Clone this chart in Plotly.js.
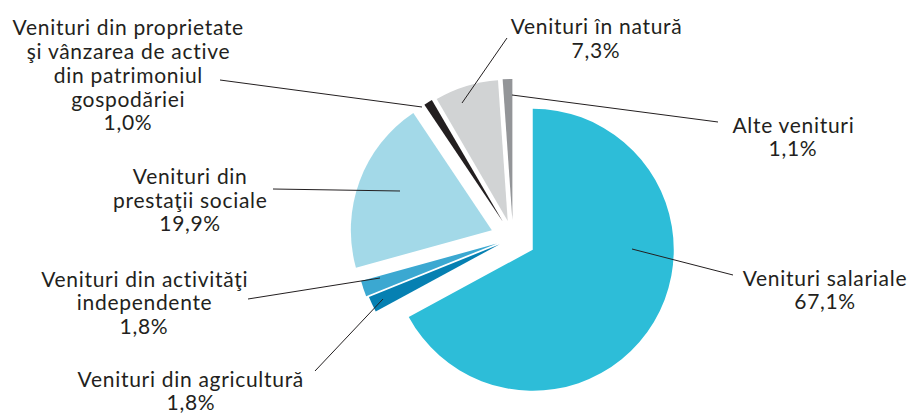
<!DOCTYPE html>
<html>
<head>
<meta charset="utf-8">
<script src="https://cdn.plot.ly/plotly-3.0.1.min.js"></script>
<style>
html,body{margin:0;padding:0;background:#fff;}
#chart{width:910px;height:414px;}
#chart .annotation-text{letter-spacing:0.7px;}
</style>
</head>
<body>
<div id="chart"></div>
<script>
// ---- data ----
const categories = [
  'Venituri salariale',
  'Venituri din agricultură',
  'Venituri din activităţi independente',
  'Venituri din prestaţii sociale',
  'Venituri din proprietate şi vânzarea de active din patrimoniul gospodăriei',
  'Venituri în natură',
  'Alte venituri'
];
const shares = [67.1, 1.8, 1.8, 19.9, 1.0, 7.3, 1.1];
const labelTextLines = [
  ['Venituri salariale'],
  ['Venituri din agricultură'],
  ['Venituri din activităţi', 'independente'],
  ['Venituri din', 'prestaţii sociale'],
  ['Venituri din proprietate', 'şi vânzarea de active', 'din patrimoniul', 'gospodăriei'],
  ['Venituri în natură'],
  ['Alte venituri']
];

// ---- styles / layout positions (pixels) ----
const W = 910, H = 414;
const colors = ['#2dbdd8', '#0680b2', '#3ba8d1', '#a3d9e8', '#231f20', '#d1d3d4', '#939598'];
const pulls = [0.163, 0.104, 0.12, 0.16, 0.135, 0.127, 0.128];
const pieCx = 513, pieCy = 238, pieHalf = 164;
// label placement: centre x, first baseline, line step
const labelPos = [
  {x: 825, y: 285, step: 23.4},
  {x: 191, y: 386.5, step: 23.4},
  {x: 144, y: 286, step: 23.5},
  {x: 190, y: 183, step: 24},
  {x: 128, y: 35, step: 23.75},
  {x: 596, y: 33, step: 25},
  {x: 793, y: 132, step: 23.5}
];
const leaders = [
  [733, 275, 632, 249],
  [315, 371, 383, 299],
  [248, 299, 380, 278],
  [273, 189, 400, 191],
  [220, 80, 422, 107],
  [507, 38, 462, 103],
  [718, 122, 512, 95]
];
const FS = 21;
const px = x => x / W, py = y => 1 - y / H;

const annotations = [];
const shapes = [];
categories.forEach((c, i) => {
  const lines = labelTextLines[i].concat([shares[i].toFixed(1).replace('.', ',') + '%']);
  lines.forEach((t, k) => {
    const base = labelPos[i].y + k * labelPos[i].step;
    annotations.push({
      xref: 'paper', yref: 'paper', x: px(labelPos[i].x), y: py(base - 8),
      xanchor: 'center', yanchor: 'middle', showarrow: false, text: t,
      borderpad: 0,
      font: {family: 'Lato, "Open Sans", sans-serif', size: FS, color: '#231f20'}
    });
  });
  const L = leaders[i];
  shapes.push({type: 'line', xref: 'paper', yref: 'paper',
    x0: px(L[0]), y0: py(L[1]), x1: px(L[2]), y1: py(L[3]),
    line: {color: '#231f20', width: 1}});
});

const trace = {
  type: 'pie',
  labels: categories,
  values: shares,
  sort: false,
  direction: 'clockwise',
  rotation: 0,
  pull: pulls,
  marker: {colors: colors, line: {width: 0}},
  textinfo: 'none',
  hoverinfo: 'label+percent',
  showlegend: false,
  domain: {
    x: [(pieCx - pieHalf) / W, (pieCx + pieHalf) / W],
    y: [(H - pieCy - pieHalf) / H, (H - pieCy + pieHalf) / H]
  }
};

Plotly.newPlot('chart', [trace], {
  width: W, height: H,
  margin: {l: 0, r: 0, t: 0, b: 0},
  paper_bgcolor: '#ffffff',
  showlegend: false,
  annotations: annotations,
  shapes: shapes
}, {displayModeBar: false, staticPlot: true});
</script>
</body>
</html>
